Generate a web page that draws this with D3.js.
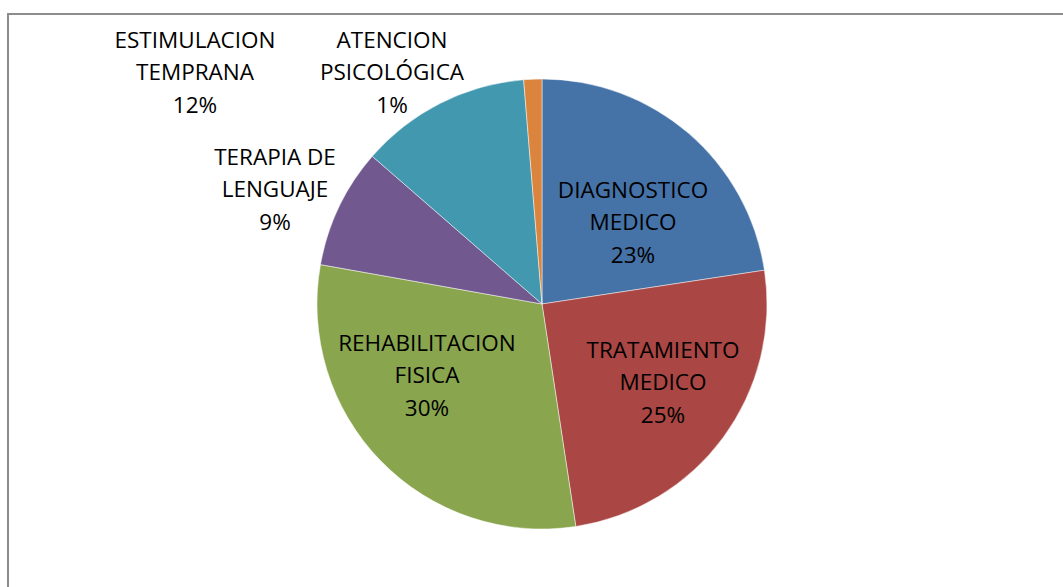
<!DOCTYPE html>
<html>
<head>
<meta charset="utf-8">
<script src="https://cdn.jsdelivr.net/npm/d3@7"></script>
<style>
  html, body { margin: 0; padding: 0; background: #fff; }
  svg { display: block; }
  .label { font-family: "Open Sans", sans-serif; font-size: 22.5px; fill: #000; }
</style>
</head>
<body>
<svg id="chart" width="1063" height="587"></svg>
<script>
// share of each service, clockwise from 12 o'clock
const categories = [
  ["DIAGNOSTICO", "MEDICO"],
  ["TRATAMIENTO", "MEDICO"],
  ["REHABILITACION", "FISICA"],
  ["TERAPIA DE", "LENGUAJE"],
  ["ESTIMULACION", "TEMPRANA"],
  ["ATENCION", "PSICOLÓGICA"]
];
const values = [22.6, 25.0, 30.2, 8.6, 12.3, 1.3];
const sliceColors = ["#4572A7", "#AA4643", "#89A54E", "#71588F", "#4198AF", "#DB843D"];

// best-fit label anchors (centre x, middle-line baseline), offset from the pie centre (px)
const labelAt = [
  [91, -74], [121, 86], [-115, 79], [-267, -107], [-347, -224], [-150, -224]
];

const svg = d3.select("#chart");
const cx = 542, cy = 304, radius = 225;
const lineGap = 32.5;

svg.append("rect")
  .attr("x", 8).attr("y", 14)
  .attr("width", 1100).attr("height", 620)
  .attr("fill", "none")
  .attr("stroke", "#8c8c8c")
  .attr("stroke-width", 2);

const total = d3.sum(values);
const pie = d3.pie().sort(null).value(d => d);
const arc = d3.arc().innerRadius(0).outerRadius(radius);
const arcs = pie(values);

const g = svg.append("g").attr("transform", `translate(${cx},${cy})`);

g.selectAll(".slice")
  .data(arcs)
  .join("path")
  .classed("slice", true)
  .attr("d", arc)
  .attr("fill", (d, i) => sliceColors[i])
  .attr("stroke", "#ffffff")
  .attr("stroke-opacity", 0.6)
  .attr("stroke-width", 0.8);

const labels = g.selectAll(".label")
  .data(arcs)
  .join("text")
  .classed("label", true)
  .attr("text-anchor", "middle")
  .attr("transform", (d, i) => `translate(${labelAt[i][0]},${labelAt[i][1]})`);

labels.each(function(d, i) {
  const lines = categories[i].concat([Math.round(d.value / total * 100) + "%"]);
  d3.select(this).selectAll("tspan")
    .data(lines)
    .join("tspan")
    .attr("x", 0)
    .attr("y", (t, k) => (k - 1) * lineGap)
    .text(t => t);
});
</script>
</body>
</html>
